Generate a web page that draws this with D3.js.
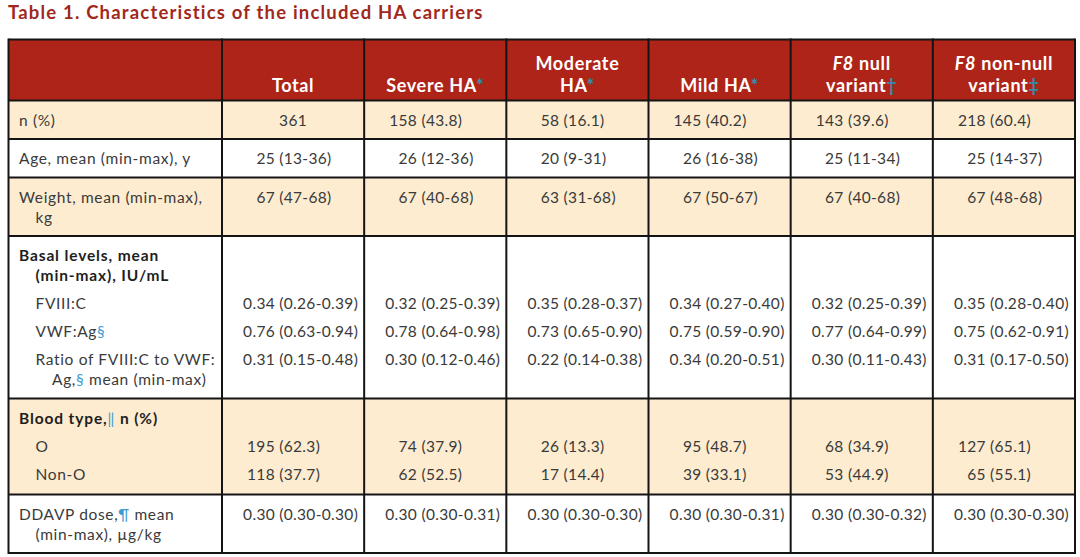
<!DOCTYPE html>
<html>
<head>
<meta charset="utf-8">
<script src="https://cdn.jsdelivr.net/npm/d3@7/dist/d3.min.js"></script>
<style>
  html, body { margin: 0; padding: 0; background: #ffffff; }
  svg { display: block; }
  text { font-family: Lato, "Open Sans", sans-serif; }
</style>
</head>
<body>
<svg id="chart" width="1080" height="557"></svg>
<script>
// ---------- data ----------
const title = "Table 1. Characteristics of the included HA carriers";
const columns = ["Total", "Severe HA", "Moderate HA", "Mild HA", "F8 null variant", "F8 non-null variant"];
// header text, line by line (segments: text, italic flag, footnote mark)
const headerLines = [
  [[{t: "Total"}]],
  [[{t: "Severe HA"}, {t: "*", mark: true}]],
  [[{t: "Moderate"}], [{t: "HA"}, {t: "*", mark: true}]],
  [[{t: "Mild HA"}, {t: "*", mark: true}]],
  [[{t: "F8", it: true}, {t: " null"}], [{t: "variant"}, {t: "\u2020", mark: true}]],
  [[{t: "F8", it: true}, {t: " non-null"}], [{t: "variant"}, {t: "\u2021", mark: true}]]
];

const nPct      = ["361", "158 (43.8)", "58 (16.1)", "145 (40.2)", "143 (39.6)", "218 (60.4)"];
const age       = ["25 (13-36)", "26 (12-36)", "20 (9-31)", "26 (16-38)", "25 (11-34)", "25 (14-37)"];
const weight    = ["67 (47-68)", "67 (40-68)", "63 (31-68)", "67 (50-67)", "67 (40-68)", "67 (48-68)"];
const fviii     = ["0.34 (0.26-0.39)", "0.32 (0.25-0.39)", "0.35 (0.28-0.37)", "0.34 (0.27-0.40)", "0.32 (0.25-0.39)", "0.35 (0.28-0.40)"];
const vwfAg     = ["0.76 (0.63-0.94)", "0.78 (0.64-0.98)", "0.73 (0.65-0.90)", "0.75 (0.59-0.90)", "0.77 (0.64-0.99)", "0.75 (0.62-0.91)"];
const ratio     = ["0.31 (0.15-0.48)", "0.30 (0.12-0.46)", "0.22 (0.14-0.38)", "0.34 (0.20-0.51)", "0.30 (0.11-0.43)", "0.31 (0.17-0.50)"];
const bloodO    = ["195 (62.3)", "74 (37.9)", "26 (13.3)", "95 (48.7)", "68 (34.9)", "127 (65.1)"];
const bloodNonO = ["118 (37.7)", "62 (52.5)", "17 (14.4)", "39 (33.1)", "53 (44.9)", "65 (55.1)"];
const ddavp     = ["0.30 (0.30-0.30)", "0.30 (0.30-0.31)", "0.30 (0.30-0.30)", "0.30 (0.30-0.31)", "0.30 (0.30-0.32)", "0.30 (0.30-0.30)"];

// row groups: each line = label segments, level (0 main, 1 sub item), wrap (continuation line), bold, values
const rowGroups = [
  [{seg: [{t: "n (%)"}], values: nPct}],
  [{seg: [{t: "Age, mean (min-max), y"}], values: age}],
  [{seg: [{t: "Weight, mean (min-max),"}], values: weight},
   {seg: [{t: "kg"}], wrap: true}],
  [{seg: [{t: "Basal levels, mean"}], bold: true},
   {seg: [{t: "(min-max), IU/mL"}], bold: true, wrap: true},
   {seg: [{t: "FVIII:C"}], level: 1, values: fviii},
   {seg: [{t: "VWF:Ag"}, {t: "\u00a7", mark: true}], level: 1, values: vwfAg},
   {seg: [{t: "Ratio of FVIII:C to VWF:"}], level: 1, values: ratio},
   {seg: [{t: "Ag,"}, {t: "\u00a7", mark: true}, {t: " mean (min-max)"}], level: 1, wrap: true}],
  [{seg: [{t: "Blood type,"}, {t: "\u2016", mark: true}, {t: " n (%)"}], bold: true},
   {seg: [{t: "O"}], level: 1, values: bloodO},
   {seg: [{t: "Non-O"}], level: 1, values: bloodNonO}],
  [{seg: [{t: "DDAVP dose,"}, {t: "\u00b6", mark: true}, {t: " mean"}], values: ddavp},
   {seg: [{t: "(min-max), \u00b5g/kg"}], wrap: true}]
];

// ---------- layout / style ----------
const tableLeft = 8.5, labelRight = 222, tableRight = 1075;
const tableTop = 39.5, headerBottom = 100.5;
const red = "#ae2418", cream = "#fdecd0", ink = "#3a3a3a", markBody = "#3d9ad1", markHead = "#2e8fb0";
const bodySize = 15.5, headSize = 18, titleSize = 18.5;

const svg = d3.select("#chart");

// letter-spacing fitted so that the typeface's width matches the reference's wider face
const measurer = svg.append("text").attr("visibility", "hidden");
function measure(str, size, weight, ls) {
  measurer.attr("font-size", size).attr("font-weight", weight).attr("letter-spacing", ls || 0).text(str);
  return measurer.node().getComputedTextLength();
}
function fit(str, size, weight, target) {
  const w = measure(str, size, weight, 0);
  return (target - w) / str.length;
}
const bodyLS = fit("Age, mean (min-max), y", bodySize, 400, 172);
const valueLS = fit("0.34 (0.26-0.39)", bodySize, 400, 115);
const boldLS = fit("Basal levels, mean", bodySize, 700, 140);
const headLS = fit("Moderate", headSize, 700, 84);
const titleLS = fit(title, titleSize, 700, 476);

const x = d3.scaleBand().domain(columns).range([labelRight, tableRight]);

// compute row geometry
const firstBase = 25, wrapStep = 20, itemStep = 28, bottomPad = 13.5;
let yCursor = headerBottom;
const groups = rowGroups.map((lines, gi) => {
  const top = yCursor;
  let base = top + firstBase;
  const placed = lines.map((ln, li) => {
    if (li > 0) base += ln.wrap ? wrapStep : itemStep;
    return Object.assign({}, ln, {base});
  });
  const bottom = base + (gi === 4 ? bottomPad + 1.5 : bottomPad);
  yCursor = bottom;
  return {top, bottom, lines: placed, fill: gi % 2 === 0 ? cream : "#ffffff"};
});
const tableBottom = yCursor;

// title
svg.append("text")
  .attr("x", 8).attr("y", 19)
  .attr("font-size", titleSize).attr("font-weight", 700)
  .attr("letter-spacing", titleLS)
  .attr("fill", "#a1281d")
  .text(title);

// header background
svg.append("rect")
  .attr("x", tableLeft).attr("y", tableTop)
  .attr("width", tableRight - tableLeft).attr("height", headerBottom - tableTop)
  .attr("fill", red);

// row backgrounds
svg.selectAll("rect.rowbg").data(groups).enter().append("rect")
  .attr("class", "rowbg")
  .attr("x", tableLeft).attr("y", d => d.top)
  .attr("width", tableRight - tableLeft).attr("height", d => d.bottom - d.top)
  .attr("fill", d => d.fill);

// header text
columns.forEach((c, i) => {
  const lines = headerLines[i];
  const cx = x(c) + x.bandwidth() / 2;
  const lastBase = 91.5;
  lines.forEach((segs, li) => {
    const t = svg.append("text")
      .attr("x", cx).attr("y", lastBase - (lines.length - 1 - li) * 21.5)
      .attr("text-anchor", "middle")
      .attr("font-size", headSize).attr("font-weight", 700)
      .attr("letter-spacing", headLS)
      .attr("fill", "#ffffff");
    segs.forEach(s => {
      t.append("tspan").text(s.t)
        .attr("font-style", s.it ? "italic" : null)
        .attr("fill", s.mark ? markHead : null);
    });
  });
});

// label column
const labelX0 = 19, indentStep = 16.5;
groups.forEach(g => {
  g.lines.forEach(ln => {
    const lvl = (ln.level || 0) + (ln.wrap ? 1 : 0);
    const t = svg.append("text")
      .attr("x", labelX0 + lvl * indentStep).attr("y", ln.base)
      .attr("font-size", bodySize)
      .attr("font-weight", ln.bold ? 700 : 400)
      .attr("letter-spacing", ln.bold ? boldLS : bodyLS)
      .attr("fill", ln.bold ? "#1e1e1e" : ink);
    ln.seg.forEach(s => {
      t.append("tspan").text(s.t)
        .attr("fill", s.mark ? markBody : null)
        .attr("font-weight", s.mark ? 400 : null);
    });
  });
});

// values: aligned on the opening parenthesis; plain numbers centred
const parenOffset = 53;
groups.forEach(g => {
  g.lines.filter(ln => ln.values).forEach(ln => {
    ln.values.forEach((v, i) => {
      const left = x(columns[i]);
      const p = v.indexOf("(");
      const t = svg.append("text")
        .attr("y", ln.base)
        .attr("font-size", bodySize)
        .attr("letter-spacing", valueLS)
        .attr("fill", ink)
        .text(v);
      if (p < 0) {
        t.attr("x", left + x.bandwidth() / 2).attr("text-anchor", "middle");
      } else {
        t.attr("x", left + parenOffset - measure(v.slice(0, p), bodySize, 400, valueLS));
      }
    });
  });
});
measurer.remove();

// grid lines
const lineColor = "#141414";
const hLines = [tableTop, headerBottom].concat(groups.map(g => g.bottom));
svg.selectAll("line.h").data(hLines).enter().append("line")
  .attr("class", "h")
  .attr("x1", tableLeft).attr("x2", tableRight)
  .attr("y1", d => d).attr("y2", d => d)
  .attr("stroke", lineColor).attr("stroke-width", 2);

const vLines = [tableLeft, labelRight].concat(columns.map(c => x(c) + x.bandwidth()));
svg.selectAll("line.v").data(vLines).enter().append("line")
  .attr("class", "v")
  .attr("x1", d => d).attr("x2", d => d)
  .attr("y1", tableTop - 1).attr("y2", tableBottom + 1)
  .attr("stroke", lineColor).attr("stroke-width", 2);
</script>
</body>
</html>
